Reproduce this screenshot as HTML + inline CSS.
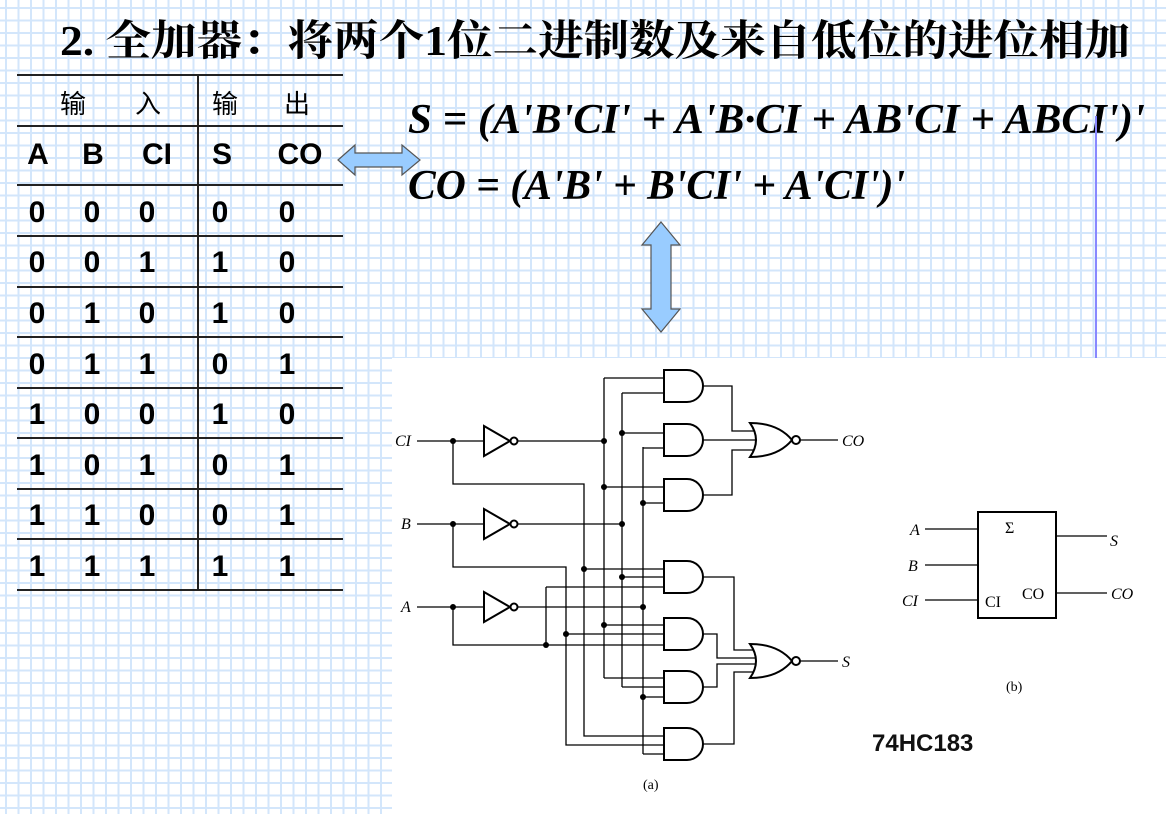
<!DOCTYPE html>
<html><head><meta charset="utf-8"><style>
html,body{margin:0;padding:0;}
body{width:1166px;height:814px;overflow:hidden;position:relative;background:#fff;
background-image:repeating-linear-gradient(90deg,transparent 0,transparent 5px,#d3e6fb 5px,#d3e6fb 7px,transparent 7px,transparent 12.5px),
repeating-linear-gradient(0deg,transparent 0,transparent 5px,#d3e6fb 5px,#d3e6fb 7px,transparent 7px,transparent 12.5px);}
svg{position:absolute;left:0;top:0;}
</style></head><body>
<svg width="1166" height="814" viewBox="0 0 1166 814">
<text x="60" y="55" font-family="'Liberation Serif','Noto Serif CJK SC',serif" font-weight="bold" font-size="42" fill="#000" textLength="1070" lengthAdjust="spacingAndGlyphs">2. 全加器：将两个1位二进制数及来自低位的进位相加</text>
<g stroke="#222" stroke-width="2">
<line x1="17" y1="75" x2="343" y2="75"/>
<line x1="17" y1="126" x2="343" y2="126"/>
<line x1="17" y1="185" x2="343" y2="185"/>
<line x1="17" y1="236" x2="343" y2="236"/>
<line x1="17" y1="287" x2="343" y2="287"/>
<line x1="17" y1="337" x2="343" y2="337"/>
<line x1="17" y1="388" x2="343" y2="388"/>
<line x1="17" y1="438" x2="343" y2="438"/>
<line x1="17" y1="489" x2="343" y2="489"/>
<line x1="17" y1="539" x2="343" y2="539"/>
<line x1="17" y1="590" x2="343" y2="590"/>
<line x1="198" y1="75" x2="198" y2="590"/>
</g>
<g font-family="'Liberation Sans','Noto Sans CJK SC',sans-serif" font-size="26" fill="#000" text-anchor="middle">
<text x="73" y="113">输</text><text x="148" y="113">入</text>
<text x="225" y="113">输</text><text x="297" y="113">出</text>
</g>
<g font-family="'Liberation Sans',sans-serif" font-size="30" font-weight="bold" fill="#000" text-anchor="middle">
<text x="38" y="164">A</text><text x="93" y="164">B</text><text x="157" y="164">CI</text><text x="222" y="164">S</text><text x="300" y="164">CO</text>
<text x="37" y="222">0</text><text x="92" y="222">0</text><text x="147" y="222">0</text><text x="220" y="222">0</text><text x="287" y="222">0</text>
<text x="37" y="272">0</text><text x="92" y="272">0</text><text x="147" y="272">1</text><text x="220" y="272">1</text><text x="287" y="272">0</text>
<text x="37" y="323">0</text><text x="92" y="323">1</text><text x="147" y="323">0</text><text x="220" y="323">1</text><text x="287" y="323">0</text>
<text x="37" y="374">0</text><text x="92" y="374">1</text><text x="147" y="374">1</text><text x="220" y="374">0</text><text x="287" y="374">1</text>
<text x="37" y="424">1</text><text x="92" y="424">0</text><text x="147" y="424">0</text><text x="220" y="424">1</text><text x="287" y="424">0</text>
<text x="37" y="475">1</text><text x="92" y="475">0</text><text x="147" y="475">1</text><text x="220" y="475">0</text><text x="287" y="475">1</text>
<text x="37" y="525">1</text><text x="92" y="525">1</text><text x="147" y="525">0</text><text x="220" y="525">0</text><text x="287" y="525">1</text>
<text x="37" y="576">1</text><text x="92" y="576">1</text><text x="147" y="576">1</text><text x="220" y="576">1</text><text x="287" y="576">1</text>
</g>
<g font-family="'Liberation Serif',serif" font-size="42" font-weight="bold" font-style="italic" fill="#000">
<text x="408" y="133" textLength="737" lengthAdjust="spacingAndGlyphs">S = (A'B'CI' + A'B·CI + AB'CI + ABCI')'</text>
<text x="408" y="199" textLength="497" lengthAdjust="spacingAndGlyphs">CO = (A'B' + B'CI' + A'CI')'</text>
</g>
<line x1="1096" y1="116" x2="1096" y2="358" stroke="#8888ff" stroke-width="2"/>
<path d="M338,160 L355,145 L355,153 L402,153 L402,145 L420,160 L402,175 L402,167 L355,167 L355,175 Z" fill="#99ccff" stroke="#555" stroke-width="1.2"/>
<path d="M661,222 L680,245 L671,245 L671,309 L680,309 L661,332 L642,309 L651,309 L651,245 L642,245 Z" fill="#99ccff" stroke="#555" stroke-width="1.2"/>
<rect x="392" y="358" width="774" height="456" fill="#fff"/>
<g stroke="#000" stroke-width="1.3" fill="none">
<path d="M417,441 H484 M453,441 V484 H584 V736 H664"/>
<path d="M417,524 H484 M453,524 V567 H566 V745 H664"/>
<path d="M417,607 H484 M453,607 V645 H664"/>
<path d="M518,441 H604 M604,378 V678"/>
<path d="M518,524 H622 M622,393 V687"/>
<path d="M518,607 H643 M643,447 V754"/>
<path d="M546,587 V645"/>
<path d="M604,378 H664 M622,393 H664"/>
<path d="M622,433 H664 M643,448 H664"/>
<path d="M604,487 H664 M643,503 H664"/>
<path d="M584,569 H664 M622,577 H664 M546,587 H664"/>
<path d="M604,625 H664 M566,634 H664"/>
<path d="M604,678 H664 M622,687 H664 M643,697 H664"/>
<path d="M643,754 H664"/>
<path d="M703,386 H732 V431 H756 M703,440 H760 M703,495 H732 V450 H756"/>
<path d="M703,577 H734 V650 H756 M703,634 H717 V658 H760 M703,687 H717 V664 H760 M703,744 H734 V672 H756"/>
<path d="M800,440 H838 M800,661 H838"/>
</g>
<g fill="#000">
<circle cx="453" cy="441" r="3"/><circle cx="453" cy="524" r="3"/><circle cx="453" cy="607" r="3"/>
<circle cx="604" cy="441" r="3"/><circle cx="622" cy="433" r="3"/><circle cx="604" cy="487" r="3"/><circle cx="643" cy="503" r="3"/>
<circle cx="622" cy="524" r="3"/><circle cx="584" cy="569" r="3"/><circle cx="622" cy="577" r="3"/>
<circle cx="643" cy="607" r="3"/><circle cx="604" cy="625" r="3"/><circle cx="566" cy="634" r="3"/><circle cx="546" cy="645" r="3"/>
<circle cx="643" cy="697" r="3"/>
</g>
<g stroke="#000" stroke-width="2" fill="#fff">
<path d="M484,426 L484,456 L510,441 Z"/><circle cx="514" cy="441" r="3.5"/>
<path d="M484,509 L484,539 L510,524 Z"/><circle cx="514" cy="524" r="3.5"/>
<path d="M484,592 L484,622 L510,607 Z"/><circle cx="514" cy="607" r="3.5"/>
<path d="M664,370 H687 A16,16 0 0 1 687,402 H664 Z"/>
<path d="M664,424 H687 A16,16 0 0 1 687,456 H664 Z"/>
<path d="M664,479 H687 A16,16 0 0 1 687,511 H664 Z"/>
<path d="M664,561 H687 A16,16 0 0 1 687,593 H664 Z"/>
<path d="M664,618 H687 A16,16 0 0 1 687,650 H664 Z"/>
<path d="M664,671 H687 A16,16 0 0 1 687,703 H664 Z"/>
<path d="M664,728 H687 A16,16 0 0 1 687,760 H664 Z"/>
<path d="M750,423 Q778,423 792,440 Q778,457 750,457 Q762,440 750,423 Z"/><circle cx="796" cy="440" r="4"/>
<path d="M750,644 Q778,644 792,661 Q778,678 750,678 Q762,661 750,644 Z"/><circle cx="796" cy="661" r="4"/>
</g>
<g font-family="'Liberation Serif',serif" font-style="italic" font-size="16" fill="#000">
<text x="395" y="446">CI</text><text x="401" y="529">B</text><text x="401" y="612">A</text>
<text x="842" y="446">CO</text><text x="842" y="667">S</text>
</g>
<text x="643" y="789" font-family="'Liberation Serif',serif" font-size="14">(a)</text>
<rect x="978" y="512" width="78" height="106" fill="none" stroke="#000" stroke-width="2"/>
<g stroke="#000" stroke-width="1.3">
<line x1="925" y1="529" x2="978" y2="529"/><line x1="925" y1="565" x2="978" y2="565"/><line x1="925" y1="600" x2="978" y2="600"/>
<line x1="1056" y1="536" x2="1107" y2="536"/><line x1="1056" y1="593" x2="1107" y2="593"/>
</g>
<g font-family="'Liberation Serif',serif" font-size="16" fill="#000">
<text x="1005" y="533">Σ</text>
<text x="985" y="607">CI</text><text x="1022" y="599">CO</text>
<text x="1006" y="691" font-size="14">(b)</text>
<g font-style="italic"><text x="910" y="535">A</text><text x="908" y="571">B</text><text x="902" y="606">CI</text>
<text x="1110" y="546">S</text><text x="1111" y="599">CO</text></g>
</g>
<text x="872" y="751" font-family="'Liberation Sans',sans-serif" font-weight="bold" font-size="24" fill="#111">74HC183</text>
</svg>
</body></html>
